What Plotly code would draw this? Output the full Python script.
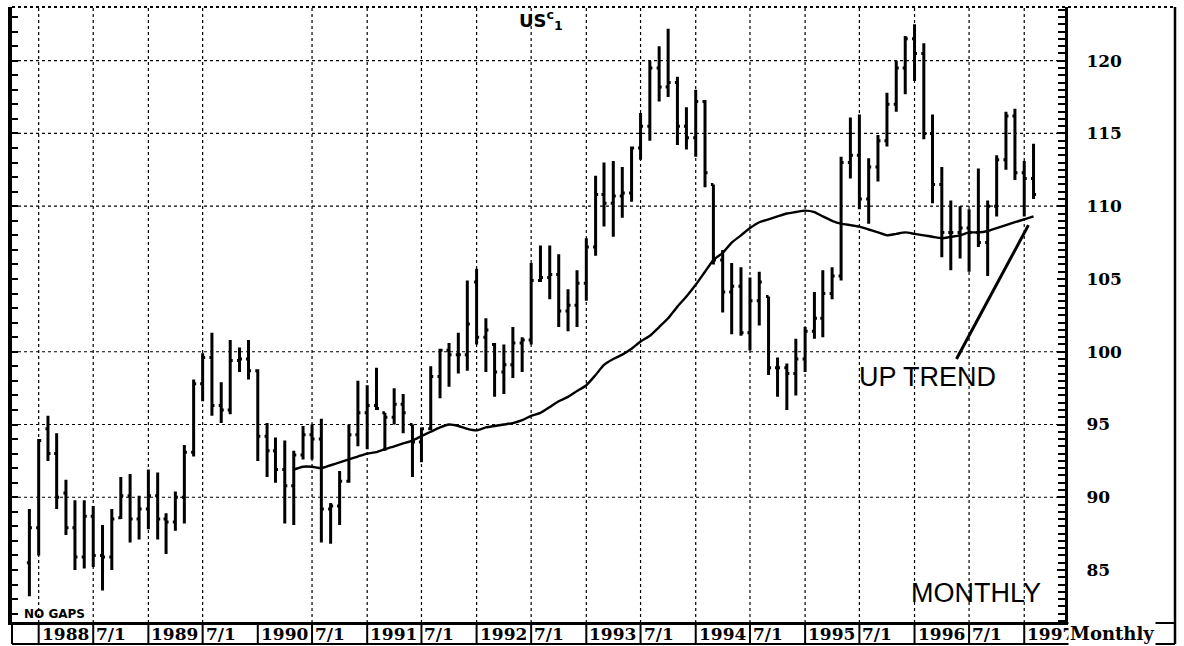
import plotly.graph_objects as go
import pandas as pd

# ---------------- data ----------------
FIRST_BAR = "1987-12-01"   # monthly bars, one per month from here

OPEN = [85.5, 87.9, 94.7, 93.0, 90.3, 87.9, 85.9, 88.7, 86.0, 85.9,
        88.6, 90.1, 88.5, 89.2, 90.1, 88.5, 88.3, 90.0, 93.1, 97.8,
        99.6, 96.3, 96.0, 99.4, 99.5, 98.7, 94.2, 93.2, 91.9, 90.8,
        92.9, 94.3, 94.0, 89.2, 89.4, 91.1, 94.3, 95.8, 96.3, 95.8,
        95.5, 96.4, 95.0, 93.8, 94.7, 98.3, 100.1, 99.8, 99.8, 104.8,
        101.0, 100.5, 98.6, 99.1, 100.6, 100.8, 104.9, 105.1, 105.3, 102.8,
        103.2, 104.7, 107.2, 110.8, 110.2, 110.7, 110.9, 114.0, 115.5, 119.5,
        118.2, 118.5, 115.5, 114.7, 117.2, 111.5, 106.3, 104.1, 104.5, 101.3,
        103.5, 103.8, 98.9, 98.9, 98.5, 99.5, 101.4, 102.3, 104.0, 105.2,
        113.0, 113.5, 110.5, 112.7, 114.5, 117.0, 119.5, 121.5, 120.5, 115.0,
        111.5, 108.2, 108.2, 108.5, 108.2, 107.5, 110.0, 113.2, 116.2, 112.3,
        111.9]
HIGH = [89.2, 94.0, 95.6, 94.4, 91.2, 89.8, 89.8, 89.4, 88.1, 89.2,
        91.4, 91.6, 90.1, 91.9, 91.7, 88.9, 90.4, 93.6, 98.1, 99.9,
        101.3, 97.9, 100.8, 100.3, 100.8, 98.8, 95.1, 94.1, 93.9, 93.2,
        94.9, 95.0, 95.4, 89.6, 91.8, 95.0, 98.0, 97.7, 98.9, 95.8,
        97.5, 97.1, 95.0, 94.8, 99.0, 100.2, 100.6, 101.3, 104.9, 105.7,
        102.3, 100.6, 100.5, 101.7, 101.0, 106.1, 107.3, 107.3, 106.7, 104.3,
        105.6, 107.8, 112.1, 113.0, 113.1, 112.7, 114.1, 116.4, 120.0, 121.0,
        122.2, 118.9, 116.8, 118.0, 117.3, 111.5, 107.0, 106.1, 105.8, 105.1,
        105.5, 103.8, 99.6, 99.2, 100.9, 101.7, 104.1, 105.6, 105.8, 113.4,
        116.1, 116.3, 113.3, 114.9, 117.8, 120.0, 121.7, 122.5, 121.2, 116.3,
        112.7, 110.4, 110.0, 109.8, 112.6, 110.4, 113.5, 116.5, 116.7, 113.1,
        114.3]
LOW = [83.2, 86.0, 92.5, 89.2, 87.4, 85.0, 85.1, 85.2, 83.6, 85.0,
       88.5, 86.9, 87.1, 87.8, 87.1, 86.1, 87.7, 88.2, 92.8, 96.6,
       95.6, 95.1, 95.7, 98.6, 98.1, 92.5, 91.4, 91.0, 88.2, 88.1,
       92.6, 92.6, 86.9, 86.8, 88.1, 91.0, 93.5, 93.3, 96.0, 93.2,
       95.0, 94.4, 91.4, 92.4, 94.6, 96.8, 97.6, 98.5, 98.7, 100.5,
       98.6, 96.9, 97.1, 98.2, 98.6, 100.5, 104.8, 103.6, 101.7, 101.4,
       101.7, 103.5, 106.6, 108.6, 107.9, 109.2, 110.3, 113.2, 114.5, 117.2,
       117.5, 114.2, 113.9, 113.4, 111.3, 106.0, 102.7, 101.2, 101.1, 100.1,
       101.8, 98.4, 96.9, 96.0, 97.0, 98.6, 100.9, 101.0, 103.6, 104.9,
       111.9, 109.8, 108.8, 111.7, 114.1, 116.5, 117.7, 118.6, 114.6, 110.2,
       106.5, 105.6, 106.4, 105.5, 107.2, 105.2, 109.3, 112.5, 111.8, 109.3,
       110.5]
CLOSE = [87.9, 93.9, 93.0, 90.0, 87.9, 85.9, 88.7, 86.0, 85.9, 88.5,
         90.1, 88.5, 89.2, 90.1, 88.5, 88.3, 90.0, 93.1, 97.8, 99.6,
         96.3, 96.0, 99.4, 99.5, 98.7, 94.2, 93.2, 91.9, 90.8, 92.9,
         94.3, 94.0, 89.2, 89.4, 91.1, 94.3, 95.8, 96.3, 96.1, 95.5,
         96.4, 95.8, 93.8, 94.7, 98.3, 100.1, 99.8, 99.8, 101.9, 101.0,
         101.5, 98.6, 99.1, 100.6, 100.8, 104.9, 105.1, 105.3, 102.8, 103.2,
         104.7, 107.2, 110.8, 110.2, 110.7, 110.9, 114.0, 115.5, 119.5, 118.2,
         118.5, 115.5, 114.7, 117.2, 112.3, 106.3, 104.1, 104.5, 101.3, 103.5,
         104.8, 98.9, 98.9, 98.5, 99.5, 101.4, 102.3, 104.0, 105.2, 113.0,
         113.5, 110.5, 112.7, 114.5, 117.0, 119.5, 121.5, 120.5, 115.0, 111.5,
         108.2, 108.2, 108.5, 108.2, 107.5, 110.0, 113.2, 116.2, 112.3, 111.9,
         110.8]

MA_START = "1990-05-01"   # moving-average line, one value per month
MA = [91.9, 92.1, 92.1, 92.0, 92.2, 92.4, 92.6, 92.8, 93.0, 93.1,
      93.3, 93.5, 93.7, 93.9, 94.2, 94.5, 94.8, 95.0, 94.9, 94.7,
      94.6, 94.8, 94.9, 95.0, 95.1, 95.3, 95.6, 95.8, 96.2, 96.6,
      96.9, 97.3, 97.7, 98.4, 99.1, 99.5, 99.8, 100.2, 100.7, 101.1,
      101.7, 102.3, 103.1, 103.8, 104.6, 105.5, 106.3, 106.8, 107.5, 108.0,
      108.5, 108.9, 109.1, 109.3, 109.5, 109.6, 109.7, 109.6, 109.3, 109.0,
      108.8, 108.7, 108.6, 108.4, 108.2, 108.0, 108.1, 108.2, 108.1, 108.0,
      107.9, 107.8, 107.9, 108.0, 108.2, 108.2, 108.3, 108.5, 108.7, 108.9,
      109.1, 109.3]

X_TICK_DATES = ["1988-01-01", "1988-07-01", "1989-01-01", "1989-07-01",
                "1990-01-01", "1990-07-01", "1991-01-01", "1991-07-01",
                "1992-01-01", "1992-07-01", "1993-01-01", "1993-07-01",
                "1994-01-01", "1994-07-01", "1995-01-01", "1995-07-01",
                "1996-01-01", "1996-07-01", "1997-01-01"]
X_TICK_LABELS = ["1988", "7/1", "1989", "7/1", "1990", "7/1", "1991", "7/1",
                 "1992", "7/1", "1993", "7/1", "1994", "7/1", "1995", "7/1",
                 "1996", "7/1", "1997"]
X_GRID_SKIP = ["1990-01-01"]
GRID_Y = [90, 95, 100, 110, 115, 120]

TREND_START = ("1996-05-20", 99.5)
TREND_END = ("1997-01-15", 108.7)

X_RANGE = ["1987-10-04", "1997-05-17"]
Y_RANGE = [81.36, 123.69]

# ---------------- figure ----------------
dates = pd.date_range(FIRST_BAR, periods=len(HIGH), freq="MS")
ma_dates = pd.date_range(MA_START, periods=len(MA), freq="MS")

fig = go.Figure()
bar_line = dict(color="black", width=3)
fig.add_trace(go.Ohlc(
    x=dates, open=OPEN, high=HIGH, low=LOW, close=CLOSE,
    increasing=dict(line=bar_line), decreasing=dict(line=bar_line),
    tickwidth=0.3, showlegend=False, hoverinfo="skip", yaxis="y"))
fig.add_trace(go.Scatter(
    x=ma_dates, y=MA, mode="lines",
    line=dict(color="black", width=2.4, shape="spline", smoothing=0.6),
    showlegend=False, hoverinfo="skip", yaxis="y"))
# invisible trace to carry the left tick-only axis
fig.add_trace(go.Scatter(x=[dates[0]], y=[HIGH[0]], mode="markers",
                         marker=dict(opacity=0), showlegend=False,
                         hoverinfo="skip", yaxis="y2"))

serif = "DejaVu Serif"

fig.update_layout(
    width=1184, height=646,
    margin=dict(l=12, r=119, t=7, b=23),
    paper_bgcolor="white", plot_bgcolor="white",
    xaxis=dict(type="date", range=X_RANGE, showgrid=False,
               showticklabels=False, ticks="", zeroline=False,
               showline=True, linecolor="black", linewidth=2, mirror=False,
               rangeslider=dict(visible=False)),
    yaxis=dict(side="right", range=Y_RANGE, tick0=85, dtick=5,
               showgrid=False, zeroline=False,
               showline=True, linecolor="black", linewidth=3,
               ticks="inside", ticklen=8, tickwidth=2, tickcolor="black",
               minor=dict(dtick=0.5, ticks="inside", ticklen=7, tickwidth=2,
                          tickcolor="black", showgrid=False),
               tickfont=dict(family=serif, size=17, color="black", weight="bold"),
               ticklabelstandoff=15),
    yaxis2=dict(side="left", overlaying="y", range=Y_RANGE, dtick=1,
                showgrid=False, zeroline=False, showticklabels=False,
                showline=True, linecolor="black", linewidth=4,
                ticks="inside", ticklen=6, tickwidth=2, tickcolor="black"),
)

# grid lines
for d in X_TICK_DATES:
    if d in X_GRID_SKIP:
        continue
    fig.add_shape(type="line", xref="x", yref="paper", x0=d, x1=d, y0=0, y1=1,
                  line=dict(color="black", width=1.2, dash="dot"), layer="below")
for v in GRID_Y:
    fig.add_shape(type="line", xref="paper", yref="y", x0=0, x1=1, y0=v, y1=v,
                  line=dict(color="black", width=1.2, dash="dot"), layer="below")

# frame pieces
plot_w = 1184 - 12 - 119
plot_h = 646 - 7 - 23
x_right_border = (1175 - 12) / plot_w
y_strip_bottom = -(644 - 623) / plot_h
fig.add_shape(type="line", xref="paper", yref="paper", x0=0, x1=x_right_border,
              y0=1, y1=1, line=dict(color="black", width=2, dash="dot"))
fig.add_shape(type="line", xref="paper", yref="paper", x0=0, x1=x_right_border,
              y0=0, y1=0, line=dict(color="black", width=2))
fig.add_shape(type="line", xref="paper", yref="paper", x0=0, x1=x_right_border,
              y0=y_strip_bottom, y1=y_strip_bottom, line=dict(color="black", width=2))
fig.add_shape(type="line", xref="paper", yref="paper", x0=x_right_border,
              x1=x_right_border, y0=y_strip_bottom, y1=1,
              line=dict(color="black", width=2.5))
fig.add_shape(type="line", xref="paper", yref="paper", x0=0, x1=0,
              y0=y_strip_bottom, y1=0, line=dict(color="black", width=2))

# boxed date labels under the plot
for d, t in zip(X_TICK_DATES, X_TICK_LABELS):
    fig.add_shape(type="line", xref="x", yref="paper", x0=d, x1=d,
                  y0=y_strip_bottom, y1=0, line=dict(color="black", width=2))
    fig.add_annotation(x=d, xref="x", y=y_strip_bottom / 2, yref="paper",
                       text="<b>" + t + "</b>", showarrow=False,
                       xanchor="left", yanchor="middle", xshift=1,
                       font=dict(family=serif, size=17, color="black"))
fig.add_annotation(x=(1068 - 12) / plot_w, xref="paper", y=y_strip_bottom / 2,
                   yref="paper", text="<b>Monthly</b>", showarrow=False,
                   xanchor="left", yanchor="middle", bgcolor="white",
                   font=dict(family=serif, size=18, color="black"))

# text labels
fig.add_annotation(x=(541 - 12) / plot_w, xref="paper", y=1 - (20 - 7) / plot_h,
                   yref="paper", text="<b>US<sup>c</sup><sub>1</sub></b>",
                   showarrow=False, xanchor="center", yanchor="middle",
                   font=dict(family="DejaVu Sans", size=18, color="black"))
fig.add_annotation(x=(927 - 12) / plot_w, xref="paper", y=1 - (377 - 7) / plot_h,
                   yref="paper", text="UP TREND", showarrow=False,
                   xanchor="center", yanchor="middle",
                   font=dict(family="Liberation Sans", size=27, color="black"))
fig.add_annotation(x=(976 - 12) / plot_w, xref="paper", y=1 - (593 - 7) / plot_h,
                   yref="paper", text="MONTHLY", showarrow=False,
                   xanchor="center", yanchor="middle",
                   font=dict(family="Liberation Sans", size=27, color="black"))
fig.add_annotation(x=(22 - 12) / plot_w, xref="paper", y=1 - (614 - 7) / plot_h,
                   yref="paper", text="<b>NO GAPS</b>", showarrow=False,
                   xanchor="left", yanchor="middle",
                   font=dict(family="DejaVu Sans", size=12, color="black"))

# hand-drawn up-trend line
fig.add_shape(type="line", xref="x", yref="y",
              x0=TREND_START[0], y0=TREND_START[1],
              x1=TREND_END[0], y1=TREND_END[1],
              line=dict(color="black", width=3))

fig.write_html("out.html",
               config={"displayModeBar": False},
               post_script="document.body.style.margin='0';"
                           "document.body.style.overflow='hidden';")
